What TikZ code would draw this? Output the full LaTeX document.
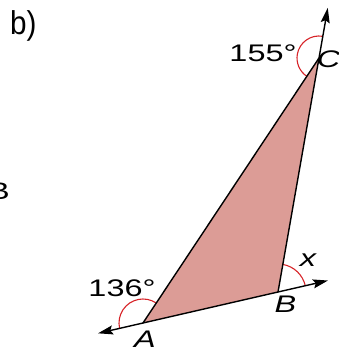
\documentclass[tikz,border=0pt]{standalone}
\usepackage{fontspec}
\setmainfont{Liberation Sans}
\newfontfamily\lblfont[FakeStretch=1.35]{Liberation Sans}
\newfontfamily\headfont[FakeStretch=0.9]{Liberation Sans}
\usetikzlibrary{arrows.meta,calc}
\definecolor{triFill}{RGB}{220,156,150}
\definecolor{arcRed}{RGB}{215,35,40}
\begin{document}
\begin{tikzpicture}[x=1pt,y=1pt,
  side/.style={line width=1.4pt,black},
  ray/.style={side,-{Stealth[length=15pt,width=9pt,inset=2.5pt]}},
  anglearc/.style={line width=1.1pt,arcRed},
  lbl/.style={inner sep=0pt,anchor=base,font=\lblfont\fontsize{24}{28}\selectfont},
  vlbl/.style={lbl,font=\lblfont\itshape\fontsize{24}{28}\selectfont}]
\useasboundingbox (0,0) rectangle (338,352);
% vertices
\coordinate (A) at (143,29);
\coordinate (B) at (278,60);
\coordinate (C) at (319,294);
\coordinate (tipL) at ($(A)!-0.333!(B)$);
\coordinate (tipR) at ($(A)!1.370!(B)$);
\coordinate (tipT) at ($(B)!1.214!(C)$);
% triangle
\fill[triFill] (A) -- (B) -- (C) -- cycle;
% angle arcs
\draw[anglearc] ($(A)+(56.4:24pt)$) arc[start angle=56.4,end angle=192.9,radius=24pt];
\draw[anglearc] ($(B)+(12.9:28pt)$) arc[start angle=12.9,end angle=80.1,radius=28pt];
\draw[anglearc] ($(C)+(80.1:22pt)$) arc[start angle=80.1,end angle=236.4,radius=22pt];
% sides and rays
\draw[side] (A) -- (C);
\draw[ray] (A) -- (tipL);
\draw[side] (A) -- (B);
\draw[ray] (B) -- (tipR);
\draw[side] (B) -- (C);
\draw[ray] (C) -- (tipT);
% labels
\node[lbl] (l155) at (263,290) {155°};
\node[vlbl] (lC) at (328.5,284) {C};
\node[lbl] (l136) at (122,55) {136°};
\node[vlbl] (lA) at (145,4.5) {A};
\node[vlbl] (lB) at (285.5,39) {B};
\node[vlbl] (lx) at (308,85) {x};
\node[inner sep=0pt,anchor=base west,font=\headfont\fontsize{33}{40}\selectfont] (head) at (10,317) {b)};
\node[lbl,anchor=base east] (edgeB) at (10,152) {B};
\end{tikzpicture}
\end{document}
